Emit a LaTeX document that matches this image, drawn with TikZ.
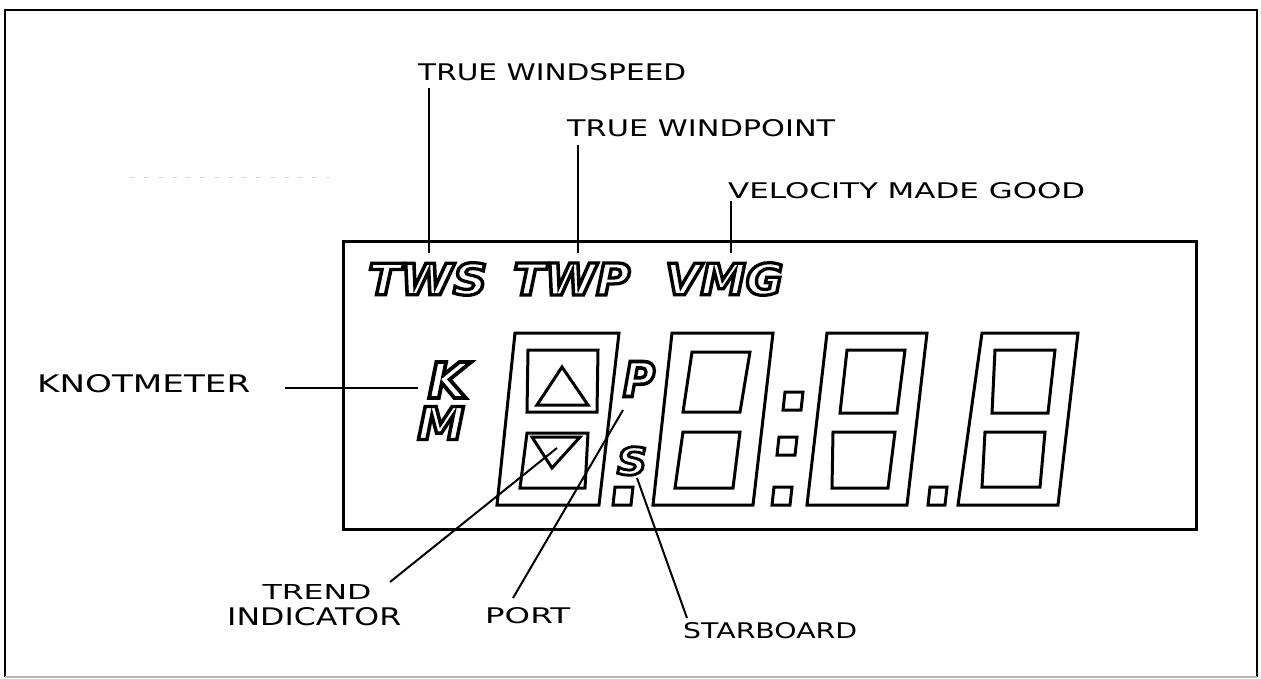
\documentclass[tikz,border=0pt]{standalone}
\usepackage{fontspec}
\setmainfont{DejaVu Sans}
\usepackage{graphicx}
\newcommand{\hw}[3]{\resizebox{#1pt}{#2pt}{#3}}
\newcommand{\lcdtxt}[3]{\resizebox{#1pt}{#2pt}{\bfseries\itshape\special{pdf:literal direct 1 Tr 0.75 w}#3\special{pdf:literal direct 0 Tr}}}
\begin{document}
\begin{tikzpicture}[x=1pt,y=-1pt,
  frm/.style={line width=2pt},
  seg/.style={line width=3pt, line join=miter},
  lead/.style={line width=2pt},
  hand/.style={inner sep=0pt, anchor=west},
  lcd/.style={inner sep=0pt}]
\useasboundingbox (0,0) rectangle (1261,679);
\fill[white] (0,0) rectangle (1261,679);
% outer frame
\draw[frm] (5,677) -- (5,10) -- (1257,10) -- (1257,677);
\draw[frm, gray!55] (5,677) -- (1257,677);
\draw[gray!30, line width=1pt, dash pattern=on 5pt off 9pt] (130,178) -- (330,178);
% display box
\draw[seg] (343,242) rectangle (1196,529);
% top labels
\node[hand] (wsl) at (418,72) {\hw{268}{17}{TRUE WINDSPEED}};
\node[hand] (wpl) at (567,128) {\hw{268}{17}{TRUE WINDPOINT}};
\node[hand] (vml) at (728,191) {\hw{357}{16}{VELOCITY MADE GOOD}};
\coordinate (ws1) at (429,88);  \coordinate (ws2) at (429,253);
\coordinate (wp1) at (578,145); \coordinate (wp2) at (578,253);
\coordinate (vm1) at (731,201); \coordinate (vm2) at (731,253);
\draw[lead] (ws1) -- (ws2);
\draw[lead] (wp1) -- (wp2);
\draw[lead] (vm1) -- (vm2);
% trend digit
\draw[seg] (515,333) -- (619,333) -- (599,505) -- (497,505) -- cycle;
\draw[seg] (528,350) -- (598,350) -- (597,412) -- (527,412) -- cycle;
\draw[seg] (562,367) -- (588,405) -- (537,405) -- cycle;
\draw[seg] (527,433) -- (588,433) -- (585,488) -- (520,488) -- cycle;
\draw[seg] (532,437) -- (580,437) -- (552,468) -- cycle;
\draw[seg] (615,487) -- (633,487) -- (631,505) -- (613,505) -- cycle;
% digit 1
\draw[seg] (672,333) -- (773,333) -- (753,505) -- (653,505) -- cycle;
\draw[seg] (692,352) -- (750,352) -- (740,412) -- (683,412) -- cycle;
\draw[seg] (683,432) -- (740,432) -- (733,488) -- (675,488) -- cycle;
% colon
\draw[seg] (785,392) -- (803,392) -- (801,410) -- (783,410) -- cycle;
\draw[seg] (779,437) -- (797,437) -- (795,455) -- (777,455) -- cycle;
\draw[seg] (774,487) -- (792,487) -- (790,505) -- (772,505) -- cycle;
% digit 2
\draw[seg] (827,333) -- (927,333) -- (907,505) -- (807,505) -- cycle;
\draw[seg] (847,350) -- (905,350) -- (897,413) -- (840,413) -- cycle;
\draw[seg] (833,432) -- (895,432) -- (888,488) -- (832,488) -- cycle;
% decimal point
\draw[seg] (930,487) -- (947,487) -- (945,505) -- (928,505) -- cycle;
% digit 3
\draw[seg] (982,333) -- (1078,333) -- (1058,505) -- (958,505) -- cycle;
\draw[seg] (995,350) -- (1055,350) -- (1048,413) -- (992,413) -- cycle;
\draw[seg] (985,432) -- (1045,432) -- (1040,487) -- (982,487) -- cycle;
% knotmeter
\node[hand] (knl) at (37,384) {\hw{213}{18}{KNOTMETER}};
\coordinate (kn1) at (285,388); \coordinate (kn2) at (418,388);
\draw[line width=2.6pt] (kn1) -- (kn2);
% bottom labels
\node[inner sep=0pt] (trl) at (317,592) {\hw{109}{15}{TREND}};
\node[hand] (inl) at (227,617) {\hw{174}{18}{INDICATOR}};
\node[hand] (ptl) at (485,616) {\hw{85}{16}{PORT}};
\node[hand] (sbl) at (683,631) {\hw{174}{16}{STARBOARD}};
\coordinate (tr1) at (390,582); \coordinate (tr2) at (557,448);
\coordinate (pt1) at (513,598); \coordinate (pt2) at (623,410);
\coordinate (sb1) at (687,618); \coordinate (sb2) at (637,478);
\draw[lead] (tr1) -- (tr2);
\draw[lead] (pt1) -- (pt2);
\draw[lead] (sb1) -- (sb2);
% LCD legends (outlined)
\node[lcd, anchor=west] (tws) at (368,279) {\lcdtxt{119}{32}{TWS}};
\node[lcd, anchor=west] (twp) at (513,279) {\lcdtxt{117}{32}{TWP}};
\node[lcd, anchor=west] (vmg) at (665,279) {\lcdtxt{118}{32}{VMG}};
\node[lcd] (k) at (448,380) {\lcdtxt{40}{36}{K}};
\node[lcd] (m) at (441,423) {\lcdtxt{47}{33}{M}};
\node[lcd] (p) at (639,379) {\lcdtxt{32}{35}{P}};
\node[lcd] (s) at (632,461) {\lcdtxt{30}{28}{S}};
\end{tikzpicture}
\end{document}
